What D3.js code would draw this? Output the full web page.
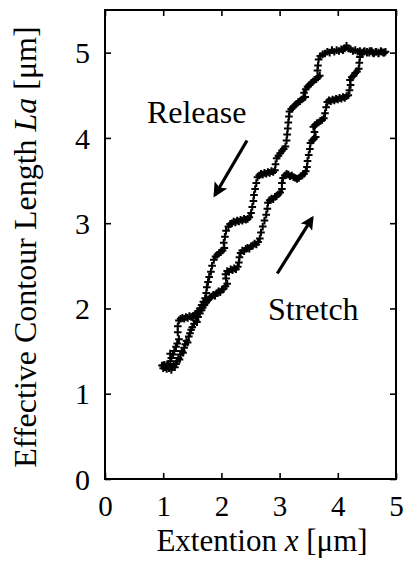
<!DOCTYPE html>
<html><head><meta charset="utf-8">
<script src="https://cdn.jsdelivr.net/npm/d3@7"></script>
<style>html,body{margin:0;padding:0;background:#fff}svg{display:block}</style>
</head><body><div id="c"></div>
<script>
const xTicks = [0,1,2,3,4,5];
const yTicks = [0,1,2,3,4,5];
const xDomain = [0,5];
const yDomain = [0,5.5];

// Stretch branch (lower-right), x [µm], La [µm]
const stretch = [[0.98,1.33],[1.00,1.30],[1.02,1.34],[1.04,1.31],[1.06,1.29],[1.08,1.33],[1.10,1.30],[1.12,1.32],[1.14,1.28],[1.16,1.31],[1.18,1.34],[1.20,1.31],[1.22,1.35],
[1.24,1.38],[1.26,1.42],[1.28,1.40],[1.30,1.46],[1.32,1.50],[1.34,1.48],[1.36,1.54],[1.38,1.58],[1.40,1.62],[1.42,1.60],[1.44,1.67],[1.46,1.71],[1.48,1.75],[1.50,1.78],[1.53,1.82],[1.56,1.86],[1.58,1.84],[1.60,1.90],[1.63,1.94],[1.66,1.98],[1.68,2.01],[1.71,2.04],[1.74,2.07],[1.77,2.10],[1.80,2.12],[1.83,2.14],[1.86,2.16],[1.89,2.15],[1.92,2.18],[1.95,2.20],[1.98,2.19],[2.01,2.22],[2.04,2.23],[2.07,2.26],[2.10,2.29],
[2.08,2.35],[2.07,2.40],[2.10,2.44],[2.13,2.43],[2.16,2.46],[2.19,2.45],[2.22,2.47],[2.25,2.46],[2.28,2.49],[2.30,2.54],[2.31,2.60],[2.33,2.65],[2.36,2.68],[2.39,2.67],[2.42,2.70],[2.45,2.71],[2.48,2.70],[2.51,2.73],[2.54,2.74],[2.57,2.76],[2.60,2.75],[2.63,2.78],[2.66,2.82],[2.68,2.89],[2.71,2.96],[2.74,3.03],[2.77,3.10],[2.79,3.17],[2.80,3.24],[2.83,3.27],[2.86,3.29],[2.89,3.28],[2.92,3.31],[2.95,3.32],[2.98,3.34],[3.01,3.36],[3.04,3.40],[3.04,3.47],[3.06,3.53],[3.09,3.56],[3.12,3.58],[3.15,3.57],[3.18,3.55],[3.21,3.56],[3.24,3.54],[3.27,3.53],[3.30,3.52],[3.33,3.53],[3.36,3.55],[3.39,3.56],[3.42,3.58],[3.45,3.61],[3.47,3.66],[3.48,3.73],[3.50,3.80],[3.52,3.87],[3.53,3.94],[3.56,3.97],[3.59,3.99],[3.62,4.01],[3.60,4.07],[3.58,4.13],[3.61,4.15],[3.64,4.17],[3.67,4.18],[3.70,4.20],[3.73,4.21],[3.76,4.23],[3.78,4.29],[3.80,4.36],[3.82,4.42],[3.85,4.44],[3.88,4.43],[3.91,4.45],[3.94,4.44],[3.97,4.46],[4.00,4.45],[4.03,4.47],[4.06,4.46],[4.09,4.48],[4.12,4.47],[4.15,4.49],[4.18,4.50],[4.20,4.56],[4.22,4.62],[4.21,4.68],[4.24,4.71],[4.27,4.73],[4.30,4.76],[4.33,4.78],[4.36,4.81],[4.37,4.88],[4.38,4.95],[4.41,4.99],[4.45,5.01],[4.50,5.00],[4.55,5.02],[4.60,5.00],[4.65,5.01],[4.70,4.99],[4.75,5.01],[4.80,5.00]];

// Release branch (upper-left)
const release = [[4.82,5.01],[4.78,5.00],[4.74,5.02],[4.70,5.00],[4.66,5.01],[4.62,4.99],[4.58,5.02],[4.54,5.00],[4.50,5.01],[4.46,5.02],[4.42,5.00],[4.38,5.02],[4.34,5.01],[4.30,5.03],[4.26,5.02],[4.22,5.04],[4.18,5.05],[4.15,5.08],[4.12,5.05],[4.09,5.03],[4.06,5.04],[4.02,5.02],[3.98,5.03],[3.94,5.01],[3.90,5.03],[3.86,5.00],[3.82,5.01],[3.78,4.99],[3.74,4.98],[3.70,4.96],[3.67,4.92],
[3.66,4.85],[3.65,4.79],[3.69,4.73],[3.66,4.71],[3.63,4.69],[3.60,4.68],[3.57,4.66],[3.54,4.64],[3.51,4.62],[3.48,4.60],[3.45,4.57],[3.42,4.53],[3.44,4.48],[3.41,4.47],[3.38,4.45],[3.35,4.43],[3.32,4.42],[3.29,4.40],[3.26,4.38],[3.23,4.36],[3.20,4.34],[3.17,4.31],[3.16,4.25],[3.15,4.18],[3.14,4.11],[3.13,4.04],[3.12,3.97],[3.10,3.90],[3.07,3.87],[3.04,3.85],[3.01,3.82],[2.98,3.79],[2.95,3.76],[2.93,3.69],[2.92,3.62],[2.89,3.60],[2.86,3.61],[2.83,3.59],[2.80,3.60],[2.77,3.58],[2.74,3.59],[2.71,3.57],[2.68,3.58],[2.65,3.56],[2.62,3.54],[2.60,3.47],[2.58,3.40],[2.56,3.33],[2.55,3.26],[2.53,3.19],[2.51,3.12],[2.48,3.07],[2.45,3.05],[2.42,3.04],[2.39,3.05],[2.36,3.03],[2.33,3.04],[2.30,3.02],[2.27,3.03],[2.24,3.01],[2.21,3.02],[2.18,3.00],[2.15,2.99],[2.12,2.96],[2.08,2.91],[2.06,2.84],[2.04,2.77],[2.05,2.71],[2.02,2.68],[1.99,2.66],[1.96,2.65],[1.93,2.63],[1.90,2.61],[1.87,2.57],[1.84,2.50],[1.82,2.43],[1.79,2.37],[1.77,2.31],[1.75,2.25],[1.74,2.18],[1.72,2.12],[1.69,2.08],[1.66,2.04],[1.63,2.00],[1.60,1.97],[1.57,1.94],[1.54,1.92],[1.51,1.91],[1.48,1.90],[1.45,1.91],[1.42,1.89],[1.39,1.90],[1.36,1.88],[1.33,1.89],[1.30,1.88],[1.27,1.86],[1.25,1.79],[1.25,1.72],[1.27,1.64],[1.24,1.59],[1.22,1.55],[1.19,1.50],[1.17,1.46],[1.14,1.42],[1.12,1.47],[1.12,1.38],[1.09,1.35],[1.06,1.33],[1.03,1.31],[1.00,1.33]];

const labels = [{text:"Release", x:0.72, y:4.17}, {text:"Stretch", x:2.80, y:1.87}];
const arrows = [{from:[2.44,3.97], to:[1.89,3.33], head:[6.5,4.6]}, {from:[2.96,2.41], to:[3.56,3.06], head:[5.5,4.2]}];

const W = 407, H = 561;
const m = {left:105, right:11, top:10, bottom:82};
const iw = W - m.left - m.right, ih = H - m.top - m.bottom;
const font = "'Liberation Serif','Times New Roman',serif";

const svg = d3.select("#c").append("svg").attr("width", W).attr("height", H)
  .style("font-family", font);
const g = svg.append("g").attr("transform", `translate(${m.left},${m.top})`);

const x = d3.scaleLinear().domain(xDomain).range([0, iw]);
const y = d3.scaleLinear().domain(yDomain).range([ih, 0]);

const tl = 6;
function styleAxis(sel){
  sel.select(".domain").remove();
  sel.selectAll(".tick line").attr("stroke","#000").attr("stroke-width",1.6);
  sel.selectAll(".tick text").attr("fill","#000").style("font-size","30px").style("font-family",font);
}
const xb = g.append("g").attr("transform",`translate(0,${ih})`)
  .call(d3.axisBottom(x).tickValues(xTicks).tickSize(-tl).tickFormat(d3.format("d")))
  .call(styleAxis);
xb.selectAll(".tick text").attr("y", 37).attr("dy", 0).style("font-size","29px");
g.append("g")
  .call(d3.axisTop(x).tickValues(xTicks).tickSize(-tl).tickFormat(""))
  .call(styleAxis);
const yl = g.append("g")
  .call(d3.axisLeft(y).tickValues(yTicks).tickSize(-tl).tickFormat(d3.format("d")))
  .call(styleAxis);
yl.selectAll(".tick text").attr("x", -15).attr("dy", "0.34em");
g.append("g").attr("transform",`translate(${iw},0)`)
  .call(d3.axisRight(y).tickValues(yTicks).tickSize(-tl).tickFormat(""))
  .call(styleAxis);

g.append("rect").attr("x",0).attr("y",0).attr("width",iw).attr("height",ih)
  .attr("fill","none").attr("stroke","#000").attr("stroke-width",2);

// markers
const plus = "M-3.8,0H3.8M0,-3.8V3.8";
[stretch, release].forEach(series => {
  g.append("g").selectAll("path").data(series).join("path")
    .attr("d", plus)
    .attr("transform", d => `translate(${x(d[0])},${y(d[1])})`)
    .attr("stroke","#000").attr("stroke-width",2).attr("fill","none");
});

// arrows
const defs = svg.append("defs");
arrows.forEach((a,i) => {
  defs.append("marker").attr("id","ah"+i).attr("viewBox","0 0 10 10").attr("refX",8).attr("refY",5)
    .attr("markerWidth",a.head[0]).attr("markerHeight",a.head[1]).attr("markerUnits","strokeWidth").attr("orient","auto")
    .append("path").attr("d","M0,0L10,5L0,10L2,5Z").attr("fill","#000");
});
g.selectAll("line.arr").data(arrows).join("line").attr("class","arr")
  .attr("x1",d=>x(d.from[0])).attr("y1",d=>y(d.from[1]))
  .attr("x2",d=>x(d.to[0])).attr("y2",d=>y(d.to[1]))
  .attr("stroke","#000").attr("stroke-width",3.2).attr("marker-end",(d,i)=>`url(#ah${i})`);

g.selectAll("text.lab").data(labels).join("text").attr("class","lab")
  .attr("x",d=>x(d.x)).attr("y",d=>y(d.y)).text(d=>d.text)
  .style("font-size","32px").attr("fill","#000");

// axis titles
const xt = svg.append("text").attr("x", 262).attr("y", 551).attr("text-anchor","middle")
  .style("font-size","31px").attr("fill","#000");
xt.append("tspan").text("Extention ");
xt.append("tspan").attr("font-style","italic").text("x");
xt.append("tspan").text(" [μm]");

const yt = svg.append("text").attr("transform","translate(36,247) rotate(-90)").attr("text-anchor","middle")
  .style("font-size","32px").attr("fill","#000");
yt.append("tspan").text("Effective Contour Length ");
yt.append("tspan").attr("font-style","italic").text("La");
yt.append("tspan").text(" [μm]");
</script></body></html>
